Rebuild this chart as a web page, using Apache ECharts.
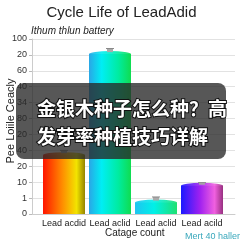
<!DOCTYPE html>
<html><head><meta charset="utf-8">
<script src="https://cdn.jsdelivr.net/npm/echarts@6/dist/echarts.min.js"></script>
<style>html,body{margin:0;padding:0;background:#fff}#c{width:243px;height:243px}</style>
</head><body><div id="c"></div>
<script>
var categories = ['Lead acdid', 'Lead aclid', 'Lead aclid', 'Lead acild'];
var barValues = [3.7, 10.05, 0.72, 1.77];
var errTops = [4.0, 10.4, 1.07, 1.97];
var yTickLabels = ['0', '1', '10', '20', '40', '20', '80', '34', '40', '60', '20', '100'];
var titleText = 'Cycle Life of LeadAdid';
var subtitleText = 'Ithum thlun battery';
var yName = 'Pee Loiile Ceacly';
var xName = 'Catage count';
var footer = 'Mert 40 haller';
var overlayLines = ['金银木种子怎么种？高', '发芽率种植技巧详解'];

function lg(stops) {
  return new echarts.graphic.LinearGradient(0, 0, 1, 0, stops.map(function (s) { return { offset: s[0], color: s[1] }; }));
}
var gradients = [
  lg([[0, '#ff1500'], [0.45, '#ff8a00'], [0.8, '#f2e400'], [1, '#958400']]),
  lg([[0, '#2aa6e6'], [0.3, '#00eef4'], [0.7, '#00eca0'], [1, '#10dc50']]),
  lg([[0, '#20c4f0'], [0.45, '#00f0e8'], [1, '#20e070']]),
  lg([[0, '#1a1aff'], [0.45, '#a020f0'], [0.8, '#f060e0'], [1, '#983080']])
];

var chart = echarts.init(document.getElementById('c'), null, { renderer: 'canvas' });
var font = '"Liberation Sans", Arial, sans-serif';
chart.setOption({
  animation: false,
  grid: [
    { left: 32, right: 8, top: 39, bottom: 29 },
    { left: 41, right: 18, top: 39, bottom: 29 }
  ],
  xAxis: [
    { gridIndex: 0, type: 'value', min: 0, max: 1, show: true,
      axisLine: { show: true, lineStyle: { color: '#cccccc' } }, axisTick: { show: false },
      axisLabel: { show: false }, splitLine: { show: false } },
    { gridIndex: 1, type: 'category', data: categories,
      axisLine: { show: false }, axisTick: { show: false },
      axisLabel: { color: '#222', fontSize: 9, fontFamily: font, margin: 5, interval: 0 } }
  ],
  yAxis: [
    { gridIndex: 0, type: 'value', min: 0, max: 11, interval: 1,
      axisLine: { show: true, lineStyle: { color: '#cccccc' } },
      axisTick: { show: true, length: 3, lineStyle: { color: '#bbbbbb' } },
      splitLine: { lineStyle: { color: '#e2e2e2' } },
      axisLabel: { color: '#333', fontSize: 9, fontFamily: font, margin: 5,
        formatter: function (v) { return yTickLabels[v]; } } },
    { gridIndex: 1, type: 'value', min: 0, max: 11, show: false }
  ],
  series: [
    { type: 'bar', xAxisIndex: 1, yAxisIndex: 1, barWidth: 42,
      data: barValues.map(function (v, i) { return { value: v, itemStyle: { color: gradients[i] } }; }),
      z: 2 },
    { type: 'pictorialBar', xAxisIndex: 1, yAxisIndex: 1, symbol: 'circle',
      symbolSize: [42, 6], symbolPosition: 'end', symbolOffset: [0, '-50%'],
      data: barValues.map(function (v, i) { return { value: v, itemStyle: { color: gradients[i], opacity: 0.9 } }; }),
      z: 3 },
    { type: 'custom', xAxisIndex: 1, yAxisIndex: 1, z: 4,
      data: errTops.map(function (e, i) { return [i, barValues[i], e]; }),
      renderItem: function (params, api) {
        var p0 = api.coord([api.value(0), api.value(1)]);
        var p1 = api.coord([api.value(0), api.value(2)]);
        return { type: 'group', children: [
          { type: 'rect', shape: { x: p0[0] - 3, y: p1[1], width: 6, height: Math.max(2, p0[1] - p1[1] - 2) },
            style: { fill: '#aaaaaa' } },
          { type: 'line', shape: { x1: p0[0] - 4, y1: p1[1], x2: p0[0] + 4, y2: p1[1] },
            style: { stroke: '#888888', lineWidth: 1 } }
        ] };
      } }
  ],
  graphic: [
    { type: 'text', left: 'center', top: 5, style: { text: titleText, fill: '#222', font: '15px ' + font } },
    { type: 'text', left: 31, top: 26, style: { text: subtitleText, fill: '#222', font: 'italic 10px ' + font } },
    { type: 'text', x: 11, y: 121, rotation: Math.PI / 2, originX: 0, originY: 0,
      style: { text: yName, fill: '#222', font: '11px ' + font, align: 'center', verticalAlign: 'middle' } },
    { type: 'text', left: 105, top: 228, style: { text: xName, fill: '#222', font: '10px ' + font } },
    { type: 'text', right: 3, top: 232, style: { text: footer, fill: '#3aa8bc', font: '9px ' + font } },
    { type: 'rect', left: 16, top: 83, shape: { width: 210, height: 76, r: 8 }, z: 100,
      style: { fill: 'rgba(40,40,40,0.78)' } },
    { type: 'text', left: 36, top: 98, z: 101,
      style: { text: overlayLines[0], fill: '#fff', stroke: '#111', lineWidth: 2,
        font: 'bold 19px "Noto Sans CJK SC", sans-serif' } },
    { type: 'text', left: 36, top: 126, z: 101,
      style: { text: overlayLines[1], fill: '#fff', stroke: '#111', lineWidth: 2,
        font: 'bold 19px "Noto Sans CJK SC", sans-serif' } }
  ]
});
</script></body></html>
